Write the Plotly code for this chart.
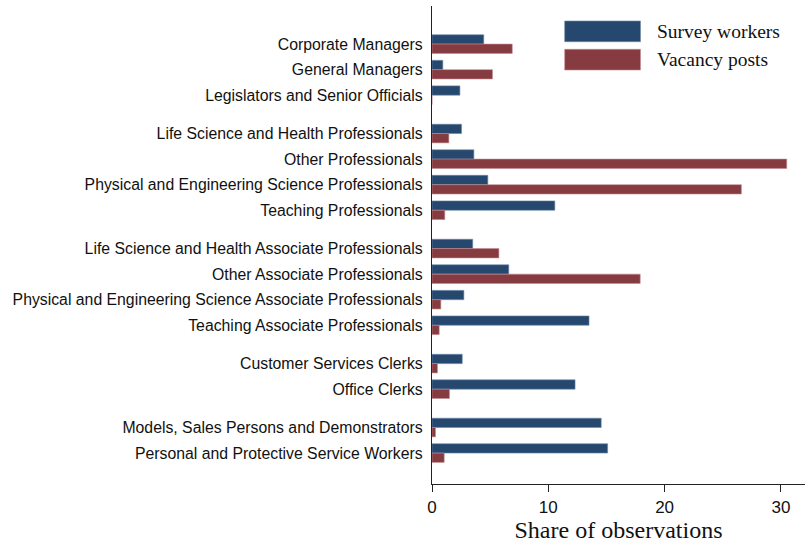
import plotly.graph_objects as go

categories = [
    "Corporate Managers", "General Managers", "Legislators and Senior Officials",
    "Life Science and Health Professionals", "Other Professionals",
    "Physical and Engineering Science Professionals", "Teaching Professionals",
    "Life Science and Health Associate Professionals", "Other Associate Professionals",
    "Physical and Engineering Science Associate Professionals", "Teaching Associate Professionals",
    "Customer Services Clerks", "Office Clerks",
    "Models, Sales Persons and Demonstrators", "Personal and Protective Service Workers",
]
# group index of each category (occupation major groups, separated by a gap)
groups = [0, 0, 0, 1, 1, 1, 1, 2, 2, 2, 2, 3, 3, 4, 4]
survey_workers = [4.45, 0.93, 2.4, 2.54, 3.6, 4.8, 10.56, 3.5, 6.6, 2.74, 13.5, 2.6, 12.3, 14.55, 15.1]
vacancy_posts = [6.9, 5.2, 0.0, 1.45, 30.5, 26.6, 1.1, 5.75, 17.9, 0.76, 0.62, 0.47, 1.5, 0.3, 1.05]
x_ticks = [0, 10, 20, 30]

# positions: one unit per category, half-unit extra gap between groups
pos = [i + 0.5 * g for i, g in enumerate(groups)]

BLUE = "#26486f"
RED = "#853b40"

fig = go.Figure()
fig.add_trace(go.Bar(y=pos, x=survey_workers, orientation="h", name="Survey workers",
                     marker=dict(color=BLUE, line=dict(color="#6f8aa8", width=0.6))))
fig.add_trace(go.Bar(y=pos, x=vacancy_posts, orientation="h", name="Vacancy posts",
                     marker=dict(color=RED, line=dict(color="#c48c90", width=0.6))))

fig.update_layout(
    width=805, height=545,
    margin=dict(l=432, r=0, t=6, b=61, autoexpand=False),
    paper_bgcolor="white", plot_bgcolor="white",
    barmode="group", bargap=0.27, bargroupgap=0,
    showlegend=False,
    font=dict(family="Liberation Sans, Arial, sans-serif", color="#111"),
)
fig.update_xaxes(
    range=[0, 32.07], tickvals=x_ticks, ticks="outside", ticklen=7, tickwidth=1.2,
    tickcolor="#222", showline=True, linecolor="#222", linewidth=1.3, showgrid=False,
    zeroline=False, tickfont=dict(size=17, color="#111"),
    title=dict(text="Share of observations", standoff=4,
               font=dict(family="Liberation Serif, Times New Roman, serif", size=24, color="#111")),
)
fig.update_yaxes(
    range=[pos[-1] + 1.21, -1.49], tickvals=pos, ticktext=categories, ticks="",
    showline=True, linecolor="#222", linewidth=1.3, showgrid=False, zeroline=False,
    tickfont=dict(size=15.8, color="#111"), ticklabelstandoff=5,
)

# legend drawn as swatches + labels (wide Stata-style keys)
legend_items = [("Survey workers", BLUE, "#6f8aa8", 0.9253, 0.9686),
                ("Vacancy posts", RED, "#c48c90", 0.8661, 0.9094)]
for label, col, lc, y0, y1 in legend_items:
    fig.add_shape(type="rect", xref="paper", yref="paper", x0=0.3557, x1=0.559,
                  y0=y0, y1=y1, fillcolor=col, line=dict(color=lc, width=0.6))
    fig.add_annotation(xref="paper", yref="paper", x=0.599, y=(y0 + y1) / 2,
                       text=label, showarrow=False, xanchor="left", yanchor="middle",
                       font=dict(family="Liberation Serif, Times New Roman, serif", size=19.5, color="#111"))

fig.write_html("out.html", config={"displayModeBar": False},
               post_script="document.body.style.margin='0';document.body.style.overflow='hidden';")
